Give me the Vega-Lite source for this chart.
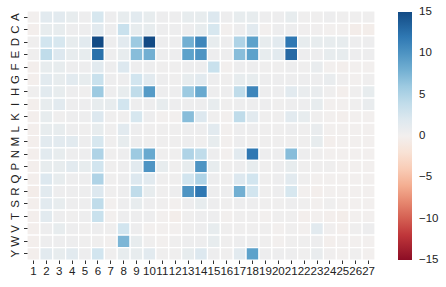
{
"$schema":"https://vega.github.io/schema/vega-lite/v6.json",
"width":348,"height":249,
"autosize":{"type":"none"},
"padding":{"left":27,"top":11,"right":71,"bottom":27},
"background":"white",
"config":{"view":{"stroke":null},"font":"Liberation Sans"},
"data":{"values":[
{"r":"A","c":1,"v":0},{"r":"A","c":2,"v":1.5},{"r":"A","c":3,"v":1.5},{"r":"A","c":4,"v":1},{"r":"A","c":5,"v":0.5},{"r":"A","c":6,"v":2.5},{"r":"A","c":7,"v":0.5},{"r":"A","c":8,"v":1},{"r":"A","c":9,"v":1.5},{"r":"A","c":10,"v":1},{"r":"A","c":11,"v":0.5},{"r":"A","c":12,"v":0.5},{"r":"A","c":13,"v":1},{"r":"A","c":14,"v":1},{"r":"A","c":15,"v":2},{"r":"A","c":16,"v":0.5},{"r":"A","c":17,"v":1},{"r":"A","c":18,"v":1},{"r":"A","c":19,"v":0.5},{"r":"A","c":20,"v":0.5},{"r":"A","c":21,"v":1},{"r":"A","c":22,"v":0.3},{"r":"A","c":23,"v":0.3},{"r":"A","c":24,"v":0.5},{"r":"A","c":25,"v":0.3},{"r":"A","c":26,"v":0.3},{"r":"A","c":27,"v":0.3},
{"r":"C","c":1,"v":-0.2},{"r":"C","c":2,"v":1},{"r":"C","c":3,"v":1},{"r":"C","c":4,"v":0.5},{"r":"C","c":5,"v":0.5},{"r":"C","c":6,"v":1.5},{"r":"C","c":7,"v":0.5},{"r":"C","c":8,"v":3.5},{"r":"C","c":9,"v":1},{"r":"C","c":10,"v":1},{"r":"C","c":11,"v":0.5},{"r":"C","c":12,"v":0.5},{"r":"C","c":13,"v":0.5},{"r":"C","c":14,"v":1},{"r":"C","c":15,"v":2.5},{"r":"C","c":16,"v":0},{"r":"C","c":17,"v":0.5},{"r":"C","c":18,"v":1.5},{"r":"C","c":19,"v":0},{"r":"C","c":20,"v":0.5},{"r":"C","c":21,"v":0.5},{"r":"C","c":22,"v":0.2},{"r":"C","c":23,"v":0.2},{"r":"C","c":24,"v":0},{"r":"C","c":25,"v":0},{"r":"C","c":26,"v":-0.4},{"r":"C","c":27,"v":-0.3},
{"r":"D","c":1,"v":0.3},{"r":"D","c":2,"v":3},{"r":"D","c":3,"v":2.5},{"r":"D","c":4,"v":1},{"r":"D","c":5,"v":1.5},{"r":"D","c":6,"v":15},{"r":"D","c":7,"v":0.5},{"r":"D","c":8,"v":1.5},{"r":"D","c":9,"v":6},{"r":"D","c":10,"v":15},{"r":"D","c":11,"v":0.5},{"r":"D","c":12,"v":0.5},{"r":"D","c":13,"v":8},{"r":"D","c":14,"v":11},{"r":"D","c":15,"v":1},{"r":"D","c":16,"v":0.5},{"r":"D","c":17,"v":5},{"r":"D","c":18,"v":9},{"r":"D","c":19,"v":1},{"r":"D","c":20,"v":1.5},{"r":"D","c":21,"v":12},{"r":"D","c":22,"v":1},{"r":"D","c":23,"v":1},{"r":"D","c":24,"v":1},{"r":"D","c":25,"v":1},{"r":"D","c":26,"v":0.5},{"r":"D","c":27,"v":0.5},
{"r":"E","c":1,"v":0.3},{"r":"E","c":2,"v":4},{"r":"E","c":3,"v":2},{"r":"E","c":4,"v":1},{"r":"E","c":5,"v":1},{"r":"E","c":6,"v":12.5},{"r":"E","c":7,"v":0.5},{"r":"E","c":8,"v":1},{"r":"E","c":9,"v":7},{"r":"E","c":10,"v":8},{"r":"E","c":11,"v":0.5},{"r":"E","c":12,"v":0.5},{"r":"E","c":13,"v":9},{"r":"E","c":14,"v":10},{"r":"E","c":15,"v":0.5},{"r":"E","c":16,"v":0.5},{"r":"E","c":17,"v":7},{"r":"E","c":18,"v":9},{"r":"E","c":19,"v":1},{"r":"E","c":20,"v":1.5},{"r":"E","c":21,"v":13},{"r":"E","c":22,"v":0.5},{"r":"E","c":23,"v":0.5},{"r":"E","c":24,"v":1},{"r":"E","c":25,"v":1},{"r":"E","c":26,"v":0.5},{"r":"E","c":27,"v":0.5},
{"r":"F","c":1,"v":-0.2},{"r":"F","c":2,"v":1},{"r":"F","c":3,"v":1},{"r":"F","c":4,"v":0.5},{"r":"F","c":5,"v":0.5},{"r":"F","c":6,"v":1.5},{"r":"F","c":7,"v":0.5},{"r":"F","c":8,"v":2},{"r":"F","c":9,"v":0.5},{"r":"F","c":10,"v":0.5},{"r":"F","c":11,"v":0.3},{"r":"F","c":12,"v":0.3},{"r":"F","c":13,"v":0.5},{"r":"F","c":14,"v":0.5},{"r":"F","c":15,"v":3.5},{"r":"F","c":16,"v":0},{"r":"F","c":17,"v":0.5},{"r":"F","c":18,"v":0.5},{"r":"F","c":19,"v":0.3},{"r":"F","c":20,"v":0.3},{"r":"F","c":21,"v":0.5},{"r":"F","c":22,"v":0.3},{"r":"F","c":23,"v":0.8},{"r":"F","c":24,"v":0},{"r":"F","c":25,"v":-0.2},{"r":"F","c":26,"v":0},{"r":"F","c":27,"v":0},
{"r":"G","c":1,"v":-0.2},{"r":"G","c":2,"v":1.5},{"r":"G","c":3,"v":1},{"r":"G","c":4,"v":1.5},{"r":"G","c":5,"v":1},{"r":"G","c":6,"v":3.5},{"r":"G","c":7,"v":0.5},{"r":"G","c":8,"v":0.5},{"r":"G","c":9,"v":3},{"r":"G","c":10,"v":1.5},{"r":"G","c":11,"v":0.5},{"r":"G","c":12,"v":0.3},{"r":"G","c":13,"v":1},{"r":"G","c":14,"v":1.5},{"r":"G","c":15,"v":0.5},{"r":"G","c":16,"v":0.3},{"r":"G","c":17,"v":1},{"r":"G","c":18,"v":1},{"r":"G","c":19,"v":0.5},{"r":"G","c":20,"v":0.5},{"r":"G","c":21,"v":0.5},{"r":"G","c":22,"v":0.5},{"r":"G","c":23,"v":0.5},{"r":"G","c":24,"v":0.8},{"r":"G","c":25,"v":0.2},{"r":"G","c":26,"v":0},{"r":"G","c":27,"v":0.3},
{"r":"H","c":1,"v":0.3},{"r":"H","c":2,"v":1.5},{"r":"H","c":3,"v":1},{"r":"H","c":4,"v":0.5},{"r":"H","c":5,"v":0.3},{"r":"H","c":6,"v":6},{"r":"H","c":7,"v":0.5},{"r":"H","c":8,"v":1},{"r":"H","c":9,"v":4},{"r":"H","c":10,"v":9.5},{"r":"H","c":11,"v":0.5},{"r":"H","c":12,"v":0.5},{"r":"H","c":13,"v":6},{"r":"H","c":14,"v":8.5},{"r":"H","c":15,"v":0.5},{"r":"H","c":16,"v":0.5},{"r":"H","c":17,"v":4},{"r":"H","c":18,"v":11},{"r":"H","c":19,"v":0.5},{"r":"H","c":20,"v":0.5},{"r":"H","c":21,"v":1.5},{"r":"H","c":22,"v":0.8},{"r":"H","c":23,"v":0.8},{"r":"H","c":24,"v":0.3},{"r":"H","c":25,"v":-0.2},{"r":"H","c":26,"v":0.3},{"r":"H","c":27,"v":1},
{"r":"I","c":1,"v":-0.2},{"r":"I","c":2,"v":1},{"r":"I","c":3,"v":1.5},{"r":"I","c":4,"v":0.5},{"r":"I","c":5,"v":0.5},{"r":"I","c":6,"v":1},{"r":"I","c":7,"v":1},{"r":"I","c":8,"v":3},{"r":"I","c":9,"v":0.5},{"r":"I","c":10,"v":0.5},{"r":"I","c":11,"v":1},{"r":"I","c":12,"v":0.5},{"r":"I","c":13,"v":0.5},{"r":"I","c":14,"v":0.5},{"r":"I","c":15,"v":1},{"r":"I","c":16,"v":0.3},{"r":"I","c":17,"v":0.5},{"r":"I","c":18,"v":0.5},{"r":"I","c":19,"v":0.5},{"r":"I","c":20,"v":0.3},{"r":"I","c":21,"v":0.5},{"r":"I","c":22,"v":0.5},{"r":"I","c":23,"v":1},{"r":"I","c":24,"v":0},{"r":"I","c":25,"v":0},{"r":"I","c":26,"v":0.3},{"r":"I","c":27,"v":0.8},
{"r":"K","c":1,"v":-0.2},{"r":"K","c":2,"v":1},{"r":"K","c":3,"v":0.3},{"r":"K","c":4,"v":0.5},{"r":"K","c":5,"v":0.5},{"r":"K","c":6,"v":2},{"r":"K","c":7,"v":0.3},{"r":"K","c":8,"v":0.3},{"r":"K","c":9,"v":2.5},{"r":"K","c":10,"v":0.5},{"r":"K","c":11,"v":0},{"r":"K","c":12,"v":0},{"r":"K","c":13,"v":7},{"r":"K","c":14,"v":2},{"r":"K","c":15,"v":0.3},{"r":"K","c":16,"v":0},{"r":"K","c":17,"v":4},{"r":"K","c":18,"v":1.5},{"r":"K","c":19,"v":0.3},{"r":"K","c":20,"v":0.3},{"r":"K","c":21,"v":1.5},{"r":"K","c":22,"v":1},{"r":"K","c":23,"v":0.3},{"r":"K","c":24,"v":0},{"r":"K","c":25,"v":-0.2},{"r":"K","c":26,"v":0},{"r":"K","c":27,"v":0},
{"r":"L","c":1,"v":-0.2},{"r":"L","c":2,"v":1},{"r":"L","c":3,"v":1},{"r":"L","c":4,"v":0.5},{"r":"L","c":5,"v":0.3},{"r":"L","c":6,"v":1},{"r":"L","c":7,"v":0.3},{"r":"L","c":8,"v":1.5},{"r":"L","c":9,"v":0.5},{"r":"L","c":10,"v":0.3},{"r":"L","c":11,"v":0.3},{"r":"L","c":12,"v":0.3},{"r":"L","c":13,"v":0.5},{"r":"L","c":14,"v":0.5},{"r":"L","c":15,"v":1.5},{"r":"L","c":16,"v":0},{"r":"L","c":17,"v":0.5},{"r":"L","c":18,"v":0.5},{"r":"L","c":19,"v":0.3},{"r":"L","c":20,"v":0.3},{"r":"L","c":21,"v":0.5},{"r":"L","c":22,"v":0.3},{"r":"L","c":23,"v":0.8},{"r":"L","c":24,"v":0},{"r":"L","c":25,"v":0},{"r":"L","c":26,"v":0},{"r":"L","c":27,"v":0},
{"r":"M","c":1,"v":-0.2},{"r":"M","c":2,"v":1.5},{"r":"M","c":3,"v":1.5},{"r":"M","c":4,"v":1.5},{"r":"M","c":5,"v":0.5},{"r":"M","c":6,"v":2.5},{"r":"M","c":7,"v":0.3},{"r":"M","c":8,"v":1},{"r":"M","c":9,"v":0.5},{"r":"M","c":10,"v":0.3},{"r":"M","c":11,"v":0.3},{"r":"M","c":12,"v":0.3},{"r":"M","c":13,"v":0.5},{"r":"M","c":14,"v":0.3},{"r":"M","c":15,"v":1},{"r":"M","c":16,"v":0},{"r":"M","c":17,"v":0.5},{"r":"M","c":18,"v":0.3},{"r":"M","c":19,"v":0.3},{"r":"M","c":20,"v":0.3},{"r":"M","c":21,"v":0.3},{"r":"M","c":22,"v":0.3},{"r":"M","c":23,"v":1},{"r":"M","c":24,"v":-0.2},{"r":"M","c":25,"v":0},{"r":"M","c":26,"v":0},{"r":"M","c":27,"v":0},
{"r":"N","c":1,"v":-0.2},{"r":"N","c":2,"v":1.5},{"r":"N","c":3,"v":1},{"r":"N","c":4,"v":0.5},{"r":"N","c":5,"v":0.5},{"r":"N","c":6,"v":5},{"r":"N","c":7,"v":0.3},{"r":"N","c":8,"v":0.5},{"r":"N","c":9,"v":6},{"r":"N","c":10,"v":8.5},{"r":"N","c":11,"v":0.3},{"r":"N","c":12,"v":0.3},{"r":"N","c":13,"v":5},{"r":"N","c":14,"v":4},{"r":"N","c":15,"v":0.5},{"r":"N","c":16,"v":0},{"r":"N","c":17,"v":1.5},{"r":"N","c":18,"v":12},{"r":"N","c":19,"v":0.5},{"r":"N","c":20,"v":0.5},{"r":"N","c":21,"v":7},{"r":"N","c":22,"v":0.5},{"r":"N","c":23,"v":0.3},{"r":"N","c":24,"v":0},{"r":"N","c":25,"v":0},{"r":"N","c":26,"v":0},{"r":"N","c":27,"v":0},
{"r":"P","c":1,"v":-0.2},{"r":"P","c":2,"v":1},{"r":"P","c":3,"v":1},{"r":"P","c":4,"v":1.5},{"r":"P","c":5,"v":1},{"r":"P","c":6,"v":3},{"r":"P","c":7,"v":0.3},{"r":"P","c":8,"v":0.5},{"r":"P","c":9,"v":1.5},{"r":"P","c":10,"v":10},{"r":"P","c":11,"v":1},{"r":"P","c":12,"v":0.3},{"r":"P","c":13,"v":1},{"r":"P","c":14,"v":10},{"r":"P","c":15,"v":1},{"r":"P","c":16,"v":0.3},{"r":"P","c":17,"v":0.5},{"r":"P","c":18,"v":1},{"r":"P","c":19,"v":0.3},{"r":"P","c":20,"v":0.5},{"r":"P","c":21,"v":1},{"r":"P","c":22,"v":0.3},{"r":"P","c":23,"v":0.3},{"r":"P","c":24,"v":0.3},{"r":"P","c":25,"v":0},{"r":"P","c":26,"v":0},{"r":"P","c":27,"v":0},
{"r":"Q","c":1,"v":-0.2},{"r":"Q","c":2,"v":2},{"r":"Q","c":3,"v":1},{"r":"Q","c":4,"v":0.5},{"r":"Q","c":5,"v":0.5},{"r":"Q","c":6,"v":5},{"r":"Q","c":7,"v":0.3},{"r":"Q","c":8,"v":0.5},{"r":"Q","c":9,"v":2},{"r":"Q","c":10,"v":1.5},{"r":"Q","c":11,"v":0.3},{"r":"Q","c":12,"v":0.3},{"r":"Q","c":13,"v":3},{"r":"Q","c":14,"v":5},{"r":"Q","c":15,"v":0.5},{"r":"Q","c":16,"v":0.3},{"r":"Q","c":17,"v":2},{"r":"Q","c":18,"v":3},{"r":"Q","c":19,"v":0.3},{"r":"Q","c":20,"v":0.5},{"r":"Q","c":21,"v":1.5},{"r":"Q","c":22,"v":0.3},{"r":"Q","c":23,"v":0},{"r":"Q","c":24,"v":0},{"r":"Q","c":25,"v":0},{"r":"Q","c":26,"v":0},{"r":"Q","c":27,"v":0},
{"r":"R","c":1,"v":-0.4},{"r":"R","c":2,"v":1.5},{"r":"R","c":3,"v":0.5},{"r":"R","c":4,"v":0.5},{"r":"R","c":5,"v":0.5},{"r":"R","c":6,"v":2},{"r":"R","c":7,"v":0.3},{"r":"R","c":8,"v":0.5},{"r":"R","c":9,"v":4},{"r":"R","c":10,"v":1},{"r":"R","c":11,"v":0.3},{"r":"R","c":12,"v":0.5},{"r":"R","c":13,"v":10},{"r":"R","c":14,"v":12},{"r":"R","c":15,"v":0.5},{"r":"R","c":16,"v":0.5},{"r":"R","c":17,"v":8},{"r":"R","c":18,"v":3},{"r":"R","c":19,"v":0.3},{"r":"R","c":20,"v":0.5},{"r":"R","c":21,"v":2.5},{"r":"R","c":22,"v":0},{"r":"R","c":23,"v":-0.2},{"r":"R","c":24,"v":0},{"r":"R","c":25,"v":0},{"r":"R","c":26,"v":0},{"r":"R","c":27,"v":0},
{"r":"S","c":1,"v":-0.2},{"r":"S","c":2,"v":1.5},{"r":"S","c":3,"v":1},{"r":"S","c":4,"v":0.5},{"r":"S","c":5,"v":0.5},{"r":"S","c":6,"v":4},{"r":"S","c":7,"v":0},{"r":"S","c":8,"v":0.5},{"r":"S","c":9,"v":1},{"r":"S","c":10,"v":0.5},{"r":"S","c":11,"v":0.3},{"r":"S","c":12,"v":0},{"r":"S","c":13,"v":0.5},{"r":"S","c":14,"v":1},{"r":"S","c":15,"v":0.5},{"r":"S","c":16,"v":0.3},{"r":"S","c":17,"v":0.5},{"r":"S","c":18,"v":0.5},{"r":"S","c":19,"v":0.3},{"r":"S","c":20,"v":0.3},{"r":"S","c":21,"v":0.5},{"r":"S","c":22,"v":0.3},{"r":"S","c":23,"v":0},{"r":"S","c":24,"v":0.3},{"r":"S","c":25,"v":0},{"r":"S","c":26,"v":0},{"r":"S","c":27,"v":0},
{"r":"T","c":1,"v":-0.2},{"r":"T","c":2,"v":1.5},{"r":"T","c":3,"v":0.5},{"r":"T","c":4,"v":0.3},{"r":"T","c":5,"v":0.5},{"r":"T","c":6,"v":3.5},{"r":"T","c":7,"v":0},{"r":"T","c":8,"v":0.5},{"r":"T","c":9,"v":0.5},{"r":"T","c":10,"v":0.5},{"r":"T","c":11,"v":0},{"r":"T","c":12,"v":-0.3},{"r":"T","c":13,"v":0.3},{"r":"T","c":14,"v":0.5},{"r":"T","c":15,"v":0.5},{"r":"T","c":16,"v":0},{"r":"T","c":17,"v":0.3},{"r":"T","c":18,"v":0.3},{"r":"T","c":19,"v":0},{"r":"T","c":20,"v":0.3},{"r":"T","c":21,"v":0.3},{"r":"T","c":22,"v":-0.2},{"r":"T","c":23,"v":0},{"r":"T","c":24,"v":-0.2},{"r":"T","c":25,"v":-0.3},{"r":"T","c":26,"v":0},{"r":"T","c":27,"v":0},
{"r":"V","c":1,"v":-0.2},{"r":"V","c":2,"v":0.5},{"r":"V","c":3,"v":1},{"r":"V","c":4,"v":0.5},{"r":"V","c":5,"v":0.3},{"r":"V","c":6,"v":0.5},{"r":"V","c":7,"v":0.3},{"r":"V","c":8,"v":3},{"r":"V","c":9,"v":0.5},{"r":"V","c":10,"v":0},{"r":"V","c":11,"v":0},{"r":"V","c":12,"v":0},{"r":"V","c":13,"v":0.3},{"r":"V","c":14,"v":0.5},{"r":"V","c":15,"v":1},{"r":"V","c":16,"v":0.3},{"r":"V","c":17,"v":0.3},{"r":"V","c":18,"v":0.3},{"r":"V","c":19,"v":0.3},{"r":"V","c":20,"v":0},{"r":"V","c":21,"v":0.3},{"r":"V","c":22,"v":0},{"r":"V","c":23,"v":1.5},{"r":"V","c":24,"v":0.2},{"r":"V","c":25,"v":-0.2},{"r":"V","c":26,"v":0.3},{"r":"V","c":27,"v":0.5},
{"r":"W","c":1,"v":-0.2},{"r":"W","c":2,"v":0.5},{"r":"W","c":3,"v":0.5},{"r":"W","c":4,"v":0.5},{"r":"W","c":5,"v":0.3},{"r":"W","c":6,"v":0.3},{"r":"W","c":7,"v":0},{"r":"W","c":8,"v":7.5},{"r":"W","c":9,"v":1},{"r":"W","c":10,"v":0.3},{"r":"W","c":11,"v":0},{"r":"W","c":12,"v":0.3},{"r":"W","c":13,"v":0.5},{"r":"W","c":14,"v":0.5},{"r":"W","c":15,"v":1},{"r":"W","c":16,"v":0.3},{"r":"W","c":17,"v":0.5},{"r":"W","c":18,"v":0.5},{"r":"W","c":19,"v":0.3},{"r":"W","c":20,"v":0},{"r":"W","c":21,"v":0.3},{"r":"W","c":22,"v":0.3},{"r":"W","c":23,"v":0.5},{"r":"W","c":24,"v":-0.2},{"r":"W","c":25,"v":0},{"r":"W","c":26,"v":0},{"r":"W","c":27,"v":0},
{"r":"Y","c":1,"v":-0.2},{"r":"Y","c":2,"v":1.5},{"r":"Y","c":3,"v":1},{"r":"Y","c":4,"v":1.5},{"r":"Y","c":5,"v":0.5},{"r":"Y","c":6,"v":3},{"r":"Y","c":7,"v":0.3},{"r":"Y","c":8,"v":1},{"r":"Y","c":9,"v":1},{"r":"Y","c":10,"v":1.5},{"r":"Y","c":11,"v":0.3},{"r":"Y","c":12,"v":0.3},{"r":"Y","c":13,"v":1},{"r":"Y","c":14,"v":2},{"r":"Y","c":15,"v":0.5},{"r":"Y","c":16,"v":0.3},{"r":"Y","c":17,"v":1.5},{"r":"Y","c":18,"v":9},{"r":"Y","c":19,"v":0.5},{"r":"Y","c":20,"v":0.5},{"r":"Y","c":21,"v":0.5},{"r":"Y","c":22,"v":0.3},{"r":"Y","c":23,"v":0.8},{"r":"Y","c":24,"v":0.2},{"r":"Y","c":25,"v":0},{"r":"Y","c":26,"v":0.3},{"r":"Y","c":27,"v":0}
]},
"mark":{"type":"rect","stroke":"white","strokeWidth":1.2},
"encoding":{
"x":{"field":"c","type":"ordinal","sort":"ascending","scale":{"paddingInner":0,"paddingOuter":0},
"axis":{"title":null,"labelAngle":0,"domain":false,"ticks":true,"tickSize":3.5,"tickColor":"#333","tickWidth":1,"labelFontSize":11.5,"labelColor":"#222","labelPadding":2}},
"y":{"field":"r","type":"ordinal","sort":["A","C","D","E","F","G","H","I","K","L","M","N","P","Q","R","S","T","V","W","Y"],"scale":{"paddingInner":0,"paddingOuter":0},
"axis":{"title":null,"labelAngle":-90,"domain":false,"ticks":true,"tickSize":3.5,"tickColor":"#333","tickWidth":1,"labelFontSize":11.5,"labelColor":"#222","labelPadding":3}},
"color":{"field":"v","type":"quantitative","scale":{"scheme":"redblue","domain":[-15,15]},
"legend":{"title":null,"orient":"none","legendX":371,"legendY":1,"direction":"vertical","gradientLength":248,"gradientThickness":14,"gradientStrokeWidth":0,"values":[15,10,5,0,-5,-10,-15],"labelFontSize":11.5,"labelColor":"#222","labelOffset":7,
"encode":{"labels":{"update":{"baseline":{"value":"middle"}}}}}}
}
}
